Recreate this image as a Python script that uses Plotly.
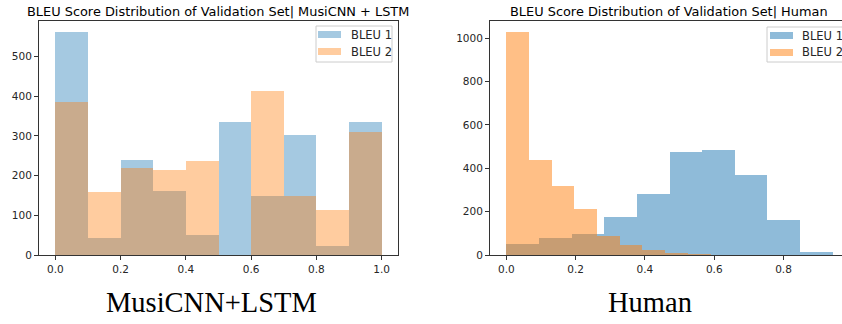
import numpy as np
import plotly.graph_objects as go

# ---------------- data ----------------
# Left panel: MusiCNN + LSTM, 10 bins over [0, 1]
musicnn_range = (0.0, 1.0)
musicnn_bleu1 = [561, 43, 239, 161, 50, 334, 148, 302, 23, 334]
musicnn_bleu2 = [386, 159, 218, 213, 237, 0, 413, 148, 113, 310]

# Right panel: Human, 10 bins each, different ranges
human_bleu1_range = (0.0, 0.942)
human_bleu1 = [52, 77, 97, 177, 280, 477, 483, 369, 162, 12]
human_bleu2_range = (0.0, 0.655)
human_bleu2 = [1028, 438, 320, 211, 87, 47, 21, 11, 4, 1]

left_title = "BLEU Score Distribution of Validation Set| MusiCNN + LSTM"
right_title = "BLEU Score Distribution of Validation Set| Human"
left_caption = "MusiCNN+LSTM"
right_caption = "Human"
series_names = ["BLEU 1", "BLEU 2"]

left_xticks = [0.0, 0.2, 0.4, 0.6, 0.8, 1.0]
left_yticks = [0, 100, 200, 300, 400, 500]
right_xticks = [0.0, 0.2, 0.4, 0.6, 0.8]
right_yticks = [0, 200, 400, 600, 800, 1000]

# ---------------- helpers ----------------
W, H = 842, 324


def px(x):
    return x / W


def py(y):
    return 1 - y / H


def bins(rng, counts):
    edges = np.linspace(rng[0], rng[1], len(counts) + 1)
    centers = (edges[:-1] + edges[1:]) / 2
    widths = np.diff(edges)
    return centers, widths


BLUE_L = "rgba(31,119,180,0.4)"
ORANGE_L = "rgba(255,127,14,0.4)"
BLUE_R = "rgba(31,119,180,0.5)"
ORANGE_R = "rgba(255,127,14,0.5)"

fig = go.Figure()

c, w = bins(musicnn_range, musicnn_bleu1)
fig.add_trace(go.Bar(x=c, y=musicnn_bleu1, width=w, marker=dict(color=BLUE_L, line=dict(width=0)),
                     name=series_names[0], xaxis="x", yaxis="y", showlegend=False))
c, w = bins(musicnn_range, musicnn_bleu2)
fig.add_trace(go.Bar(x=c, y=musicnn_bleu2, width=w, marker=dict(color=ORANGE_L, line=dict(width=0)),
                     name=series_names[1], xaxis="x", yaxis="y", showlegend=False))
c, w = bins(human_bleu1_range, human_bleu1)
fig.add_trace(go.Bar(x=c, y=human_bleu1, width=w, marker=dict(color=BLUE_R, line=dict(width=0)),
                     name=series_names[0], xaxis="x2", yaxis="y2", showlegend=False))
c, w = bins(human_bleu2_range, human_bleu2)
fig.add_trace(go.Bar(x=c, y=human_bleu2, width=w, marker=dict(color=ORANGE_R, line=dict(width=0)),
                     name=series_names[1], xaxis="x2", yaxis="y2", showlegend=False))

TICKFONT = dict(family="DejaVu Sans", size=10.5, color="#262626")
AX = dict(showgrid=False, zeroline=False, showline=True, linecolor="#333333", linewidth=1,
          ticks="outside", ticklen=4, tickcolor="#333333", tickfont=TICKFONT, automargin=False)

# left axes: pixel box x 39..398, y 21..255
l_span = max(musicnn_range) - min(musicnn_range)
l_ymax = max(max(musicnn_bleu1), max(musicnn_bleu2)) * 1.05
fig.update_layout(
    xaxis=dict(AX, domain=[px(39), px(398)], range=[-0.05 * l_span, 1.05 * l_span],
               tickvals=left_xticks, ticktext=[f"{t:.1f}" for t in left_xticks], mirror=True, anchor="y"),
    yaxis=dict(AX, domain=[py(255), py(21)], range=[0, l_ymax], tickvals=left_yticks,
               mirror=True, anchor="x"),
)

# right axes: pixel box x 490..(off-image), y 21..255 ; 0.0 at 506.7, 0.1 = 34.65 px
r_span = human_bleu1_range[1] - human_bleu1_range[0]
r_lo = -0.05 * r_span
r_hi = r_lo + (W - 490) / 346.5
r_ymax = max(max(human_bleu1), max(human_bleu2)) * 1.05
fig.update_layout(
    xaxis2=dict(AX, domain=[px(490), 1.0], range=[r_lo, r_hi],
                tickvals=right_xticks, ticktext=[f"{t:.1f}" for t in right_xticks], mirror=True, anchor="y2"),
    yaxis2=dict(AX, domain=[py(255), py(21)], range=[0, r_ymax], tickvals=right_yticks,
                mirror=False, anchor="x2"),
)

annotations = []
shapes = []

TITLEFONT = dict(family="DejaVu Sans", size=12.9, color="#000000")
annotations.append(dict(text=left_title, x=px(218), y=py(12), xref="paper", yref="paper",
                        showarrow=False, font=TITLEFONT, xanchor="center", yanchor="middle"))
annotations.append(dict(text=right_title, x=px(668.5), y=py(12), xref="paper", yref="paper",
                        showarrow=False, font=TITLEFONT, xanchor="center", yanchor="middle"))

CAPFONT = dict(family="Liberation Serif", size=28.5, color="#000000")
annotations.append(dict(text=left_caption, x=px(211.5), y=py(302), xref="paper", yref="paper",
                        showarrow=False, font=CAPFONT, xanchor="center", yanchor="middle"))
annotations.append(dict(text=right_caption, x=px(650), y=py(302), xref="paper", yref="paper",
                        showarrow=False, font=CAPFONT, xanchor="center", yanchor="middle"))

# manual legends (matplotlib-style wide patches)
LEGFONT = dict(family="DejaVu Sans", size=11.5, color="#262626")


def add_legend(x0, x1, y0, y1, colors, patch_x0, text_x):
    shapes.append(dict(type="rect", xref="paper", yref="paper", x0=px(x0), x1=px(x1),
                       y0=py(y1), y1=py(y0), line=dict(color="#cccccc", width=1),
                       fillcolor="rgba(255,255,255,0.8)", layer="above"))
    rows = [y0 + 8.5, y0 + 25.5]
    for i, (col, name) in enumerate(zip(colors, series_names)):
        yc = rows[i]
        shapes.append(dict(type="rect", xref="paper", yref="paper", x0=px(patch_x0), x1=px(patch_x0 + 23),
                           y0=py(yc + 3.5), y1=py(yc - 3.5), line=dict(width=0), fillcolor=col,
                           layer="above"))
        annotations.append(dict(text=name, x=px(text_x), y=py(yc), xref="paper", yref="paper",
                                showarrow=False, font=LEGFONT, xanchor="left", yanchor="middle"))


add_legend(316, 392, 26, 62, [BLUE_L, ORANGE_L], 318, 349)
add_legend(767, 860, 27, 62, [BLUE_R, ORANGE_R], 770, 800)

fig.update_layout(
    width=W, height=H, margin=dict(l=0, r=0, t=0, b=0, autoexpand=False),
    paper_bgcolor="white", plot_bgcolor="white",
    barmode="overlay", bargap=0, showlegend=False,
    annotations=annotations, shapes=shapes,
)

fig.write_html("out.html", config={"displayModeBar": False})

# remove the browser's default 8px body margin so the figure sits at the page origin
with open("out.html", encoding="utf-8") as f:
    html = f.read()
html = html.replace("<head>", "<head><style>html,body{margin:0;padding:0;overflow:hidden;}</style>", 1)
with open("out.html", "w", encoding="utf-8") as f:
    f.write(html)
